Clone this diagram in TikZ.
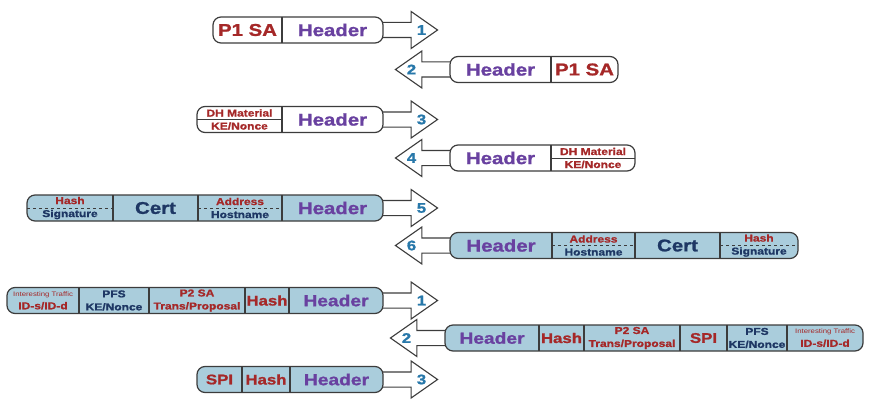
\documentclass[tikz,border=0pt]{standalone}
\usepackage{fontspec}
\setmainfont[FakeStretch=1.2, BoldFeatures={FakeBold=1.2}]{Liberation Sans}
\usetikzlibrary{positioning, fit, backgrounds, shapes.arrows}
\definecolor{sared}{RGB}{165,40,40}
\definecolor{hdrpurple}{RGB}{105,65,160}
\definecolor{navy}{RGB}{30,55,100}
\definecolor{numblue}{RGB}{40,120,170}
\definecolor{pktblue}{RGB}{170,205,220}
\definecolor{edge}{RGB}{60,60,60}
\tikzstyle{cell} = [rectangle, minimum height=26pt, inner sep=0pt, outer sep=0pt, align=center, font=\bfseries]
\tikzstyle{big} = [cell, font=\bfseries\fontsize{17}{18}\selectfont]
\tikzstyle{mid} = [cell, font=\bfseries\fontsize{14}{16}\selectfont]
\tikzstyle{small} = [cell, font=\bfseries\fontsize{10}{13}\selectfont]
\tikzstyle{frame} = [rectangle, rounded corners=8pt, draw=edge, line width=1.2pt, inner sep=0pt, fill=white]
\tikzstyle{pkt} = [frame, fill=pktblue]
\tikzstyle{sendarrow} = [single arrow, draw=edge, line width=1.1pt, fill=white, inner xsep=0pt, inner ysep=7pt, single arrow head extend=11pt, single arrow tip angle=70, minimum height=62pt]
\tikzstyle{recvarrow} = [sendarrow, shape border rotate=180]
\tikzstyle{num} = [font=\bfseries\fontsize{14}{15}\selectfont, text=numblue, inner sep=0pt]
\tikzstyle{divider} = [draw=edge, line width=1.2pt]
\tikzstyle{midline} = [draw=edge, line width=0.7pt]

\begin{document}
\begin{tikzpicture}[x=1pt, y=-1pt]
  \useasboundingbox (0,0) rectangle (873,412);

  % phase 1
  \node[big, text=sared, minimum width=69pt, anchor=west] (sa1) at (213,30) {P1 SA};
  \node[big, text=hdrpurple, minimum width=101pt, right=0pt of sa1] (hdr1) {Header};

  \node[big, text=hdrpurple, minimum width=101pt, anchor=west] (hdr2) at (450,69.5) {Header};
  \node[big, text=sared, minimum width=67pt, right=0pt of hdr2] (sa2) {P1 SA};

  \node[small, text=sared, minimum width=85pt, anchor=west] (dh3) at (197,119.5) {DH Material\\KE/Nonce};
  \node[big, text=hdrpurple, minimum width=101pt, right=0pt of dh3] (hdr3) {Header};

  \node[big, text=hdrpurple, minimum width=101pt, anchor=west] (hdr4) at (450,158) {Header};
  \node[small, text=sared, minimum width=84pt, right=0pt of hdr4] (dh4) {DH Material\\KE/Nonce};

  \node[small, minimum width=86pt, anchor=west] (hash5) at (27,208) {\textcolor{sared}{Hash}\\\textcolor{navy}{Signature}};
  \node[big, text=navy, minimum width=85pt, right=0pt of hash5] (cert5) {Cert};
  \node[small, minimum width=84pt, right=0pt of cert5] (addr5) {\textcolor{sared}{Address}\\\textcolor{navy}{Hostname}};
  \node[big, text=hdrpurple, minimum width=101pt, right=0pt of addr5] (hdr5) {Header};

  \node[big, text=hdrpurple, minimum width=102pt, anchor=west] (hdr6) at (450,245.5) {Header};
  \node[small, minimum width=83pt, right=0pt of hdr6] (addr6) {\textcolor{sared}{Address}\\\textcolor{navy}{Hostname}};
  \node[big, text=navy, minimum width=85pt, right=0pt of addr6] (cert6) {Cert};
  \node[small, minimum width=78pt, right=0pt of cert6] (hash6) {\textcolor{sared}{Hash}\\\textcolor{navy}{Signature}};

  % phase 2
  \node[small, text=sared, minimum width=72pt, anchor=west] (it7) at (7,300.5) {{\fontsize{6.5}{7}\selectfont\mdseries Interesting Traffic}\\ID-s/ID-d};
  \node[small, text=navy, minimum width=70pt, right=0pt of it7] (pfs7) {PFS\\KE/Nonce};
  \node[small, text=sared, minimum width=96pt, right=0pt of pfs7] (p2sa7) {P2 SA\\Trans/Proposal};
  \node[mid, text=sared, minimum width=44pt, right=0pt of p2sa7] (hash7) {Hash};
  \node[big, text=hdrpurple, minimum width=94pt, font=\bfseries\fontsize{16}{18}\selectfont, right=0pt of hash7] (hdr7) {Header};

  \node[big, text=hdrpurple, minimum width=94pt, font=\bfseries\fontsize{16}{18}\selectfont, anchor=west] (hdr8) at (445,338) {Header};
  \node[mid, text=sared, minimum width=45pt, right=0pt of hdr8] (hash8) {Hash};
  \node[small, text=sared, minimum width=96pt, right=0pt of hash8] (p2sa8) {P2 SA\\Trans/Proposal};
  \node[mid, text=sared, minimum width=47pt, right=0pt of p2sa8] (spi8) {SPI};
  \node[small, text=navy, minimum width=60pt, right=0pt of spi8] (pfs8) {PFS\\KE/Nonce};
  \node[small, text=sared, minimum width=76pt, right=0pt of pfs8] (it8) {{\fontsize{6.5}{7}\selectfont\mdseries Interesting Traffic}\\ID-s/ID-d};

  \node[mid, text=sared, minimum width=45pt, anchor=west] (spi9) at (197,379.5) {SPI};
  \node[mid, text=sared, minimum width=48pt, right=0pt of spi9] (hash9) {Hash};
  \node[big, text=hdrpurple, minimum width=93pt, font=\bfseries\fontsize{16}{18}\selectfont, right=0pt of hash9] (hdr9) {Header};

  \begin{scope}[on background layer]
    \node[sendarrow, right=-8pt of hdr1, anchor=tail] (arr1) {};
    \node[recvarrow, left=-8pt of hdr2, anchor=tail] (arr2) {};
    \node[sendarrow, right=-8pt of hdr3, anchor=tail] (arr3) {};
    \node[recvarrow, left=-8pt of hdr4, anchor=tail] (arr4) {};
    \node[sendarrow, right=-8pt of hdr5, anchor=tail] (arr5) {};
    \node[recvarrow, left=-8pt of hdr6, anchor=tail] (arr6) {};
    \node[sendarrow, right=-8pt of hdr7, anchor=tail] (arr7) {};
    \node[recvarrow, left=-8pt of hdr8, anchor=tail] (arr8) {};
    \node[sendarrow, right=-8pt of hdr9, anchor=tail] (arr9) {};

    \node[frame, fit=(sa1)(hdr1)] (pkt1) {};
    \node[frame, fit=(hdr2)(sa2)] (pkt2) {};
    \node[frame, fit=(dh3)(hdr3)] (pkt3) {};
    \node[frame, fit=(hdr4)(dh4)] (pkt4) {};
    \node[pkt, fit=(hash5)(hdr5)] (pkt5) {};
    \node[pkt, fit=(hdr6)(hash6)] (pkt6) {};
    \node[pkt, fit=(it7)(hdr7)] (pkt7) {};
    \node[pkt, fit=(hdr8)(it8)] (pkt8) {};
    \node[pkt, fit=(spi9)(hdr9)] (pkt9) {};
  \end{scope}

  % cell borders
  \foreach \c in {sa1,hdr2,dh3,hdr4,hash5,cert5,addr5,hdr6,addr6,cert6,it7,pfs7,p2sa7,hash7,hdr8,hash8,p2sa8,spi8,pfs8,spi9,hash9}
    \draw[divider] (\c.north east) -- (\c.south east);
  \foreach \c in {dh3,dh4}
    \draw[midline] (\c.west) -- (\c.east);
  \foreach \c in {hash5,addr5,addr6,hash6}
    \draw[midline, dashed] (\c.west) -- (\c.east);

  % step numbers
  \node[num] (num1) at ([xshift=-17pt]arr1.tip) {1};
  \node[num] (num2) at ([xshift=17pt]arr2.tip) {2};
  \node[num] (num3) at ([xshift=-17pt]arr3.tip) {3};
  \node[num] (num4) at ([xshift=17pt]arr4.tip) {4};
  \node[num] (num5) at ([xshift=-17pt]arr5.tip) {5};
  \node[num] (num6) at ([xshift=17pt]arr6.tip) {6};
  \node[num] (num7) at ([xshift=-17pt]arr7.tip) {1};
  \node[num] (num8) at ([xshift=17pt]arr8.tip) {2};
  \node[num] (num9) at ([xshift=-17pt]arr9.tip) {3};
\end{tikzpicture}
\end{document}
